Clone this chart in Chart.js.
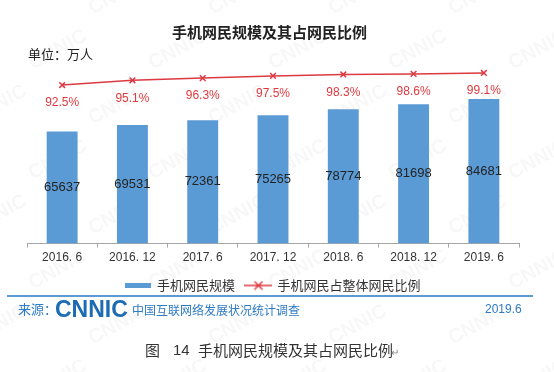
<!DOCTYPE html>
<html>
<head>
<meta charset="utf-8">
<script src="https://cdn.jsdelivr.net/npm/chart.js@4/dist/chart.umd.min.js"></script>
<style>
html, body { margin: 0; padding: 0; background: #fff; }
#wrap { position: relative; width: 554px; height: 372px; overflow: hidden; font-family: "Noto Sans CJK SC", "Liberation Sans", sans-serif; }
#chart { position: absolute; left: 0; top: 0; }
.t { position: absolute; white-space: nowrap; }
#title { left: 172px; top: 22px; font-size: 15px; font-weight: bold; color: #222; line-height: 20px; }
#unit { left: 28px; top: 45px; font-size: 13px; color: #222; line-height: 18px; }
#rule { position: absolute; left: 7px; top: 295px; width: 526px; height: 1.5px; background: #5b9bd5; }
.blue { color: #2e7bc4; }
#src { left: 18px; top: 300px; font-size: 13px; line-height: 18px; }
#logo { left: 55px; top: 296px; font-family: "Liberation Sans", sans-serif; font-weight: bold; font-size: 23px; line-height: 26px; color: #1b6cb5; }
#survey { left: 132px; top: 301px; font-size: 12px; line-height: 17px; }
#date { left: 485px; top: 301px; font-family: "Liberation Sans", sans-serif; font-size: 12px; line-height: 17px; }
.cap { top: 340px; font-size: 15px; line-height: 20px; color: #333; }
#fig { left: 145px; }
#num { left: 173px; font-family: "Liberation Sans", sans-serif; }
#capt { left: 198px; }
#ret { left: 391px; top: 344px; font-size: 10px; color: #888; }
</style>
</head>
<body>
<div id="wrap">
  <canvas id="chart" width="554" height="372"></canvas>
  <div class="t" id="title">手机网民规模及其占网民比例</div>
  <div class="t" id="unit">单位：万人</div>
  <div id="rule"></div>
  <div class="t blue" id="src">来源：</div>
  <div class="t" id="logo">CNNIC</div>
  <div class="t blue" id="survey">中国互联网络发展状况统计调查</div>
  <div class="t blue" id="date">2019.6</div>
  <div class="t cap" id="fig">图</div>
  <div class="t cap" id="num">14</div>
  <div class="t cap" id="capt">手机网民规模及其占网民比例</div>
  <div class="t" id="ret">↵</div>
</div>
<script>
// 数据
const periods = ['2016. 6', '2016. 12', '2017. 6', '2017. 12', '2018. 6', '2018. 12', '2019. 6'];
const mobileUsers = [65637, 69531, 72361, 75265, 78774, 81698, 84681];
const mobileShare = [92.5, 95.1, 96.3, 97.5, 98.3, 98.6, 99.1];

const barColor = '#5b9bd5';
const lineColor = '#dc3a40';

// 图例用的小图标
function barSwatch() {
    const c = document.createElement('canvas');
    c.width = 26; c.height = 5;
    const g = c.getContext('2d');
    g.fillStyle = barColor;
    g.fillRect(0, 0, 26, 5);
    return c;
}
function lineSwatch() {
    const c = document.createElement('canvas');
    c.width = 28; c.height = 10;
    const g = c.getContext('2d');
    g.strokeStyle = lineColor;
    g.lineWidth = 1.5;
    g.beginPath();
    g.moveTo(0, 5); g.lineTo(28, 5);
    g.moveTo(10, 1); g.lineTo(18, 9);
    g.moveTo(18, 1); g.lineTo(10, 9);
    g.stroke();
    return c;
}

// 背景水印
const watermark = {
    id: 'watermark',
    beforeDraw(chart) {
        const ctx = chart.ctx;
        ctx.save();
        ctx.fillStyle = 'rgba(0,0,0,0.03)';
        ctx.font = 'bold 20px "Liberation Sans"';
        let row = 0;
        for (let y = 10; y < 400; y += 55) {
            for (let x = -30; x < 600; x += 120) {
                ctx.save();
                ctx.translate(x + (row % 2) * 60, y);
                ctx.rotate(-0.5);
                ctx.fillText('CNNIC', 0, 0);
                ctx.restore();
            }
            row++;
        }
        ctx.restore();
    }
};

// 数值标签
const valueLabels = {
    id: 'valueLabels',
    afterDatasetsDraw(chart) {
        const ctx = chart.ctx;
        ctx.save();
        ctx.textAlign = 'center';
        ctx.textBaseline = 'middle';
        ctx.font = '13px "Liberation Sans"';
        ctx.fillStyle = '#222';
        chart.getDatasetMeta(0).data.forEach((bar, i) => {
            ctx.fillText(mobileUsers[i], bar.x, (bar.y + bar.base) / 2);
        });
        ctx.font = '12px "Liberation Sans"';
        ctx.fillStyle = '#e0393e';
        chart.getDatasetMeta(1).data.forEach((pt, i) => {
            ctx.fillText(mobileShare[i].toFixed(1) + '%', pt.x, pt.y + 18);
        });
        ctx.restore();
    }
};

const ctx = document.getElementById('chart').getContext('2d');
const chart = new Chart(ctx, {
    type: 'bar',
    data: {
        labels: periods,
        datasets: [{
            label: '手机网民规模',
            data: mobileUsers,
            backgroundColor: barColor,
            barPercentage: 0.44,
            categoryPercentage: 1,
            yAxisID: 'y',
            order: 2
        }, {
            type: 'line',
            label: '手机网民占整体网民比例',
            data: mobileShare,
            borderColor: lineColor,
            borderWidth: 1.5,
            pointStyle: 'crossRot',
            pointRadius: 4,
            pointBorderWidth: 1.5,
            pointBorderColor: lineColor,
            fill: false,
            tension: 0,
            yAxisID: 'y2',
            order: 1
        }]
    },
    options: {
        responsive: false,
        animation: false,
        layout: { padding: { left: 27, right: 35, top: 60, bottom: 70 } },
        scales: {
            x: {
                grid: { drawOnChartArea: false, tickLength: 4, color: '#a6a6a6', offset: true },
                border: { color: '#a6a6a6' },
                ticks: {
                    color: '#333',
                    font: { family: 'Liberation Sans', size: 12 },
                    padding: 3,
                    maxRotation: 0,
                    autoSkip: false
                }
            },
            y: { display: false, min: 0, max: 107600 },
            y2: { display: false, min: 5.7, max: 106.2 }
        },
        plugins: {
            legend: {
                position: 'bottom',
                labels: {
                    usePointStyle: true,
                    pointStyleWidth: 25,
                    boxHeight: 13,
                    padding: 11,
                    color: '#333',
                    font: { family: 'Noto Sans CJK SC', size: 13 },
                    sort: (a, b) => a.datasetIndex - b.datasetIndex,
                    generateLabels(chart) {
                        const items = Chart.defaults.plugins.legend.labels.generateLabels(chart);
                        items.forEach(item => {
                            item.pointStyle = item.datasetIndex === 0 ? barSwatch() : lineSwatch();
                        });
                        return items;
                    }
                }
            },
            tooltip: { enabled: false }
        }
    },
    plugins: [watermark, valueLabels]
});
</script>
</body>
</html>
